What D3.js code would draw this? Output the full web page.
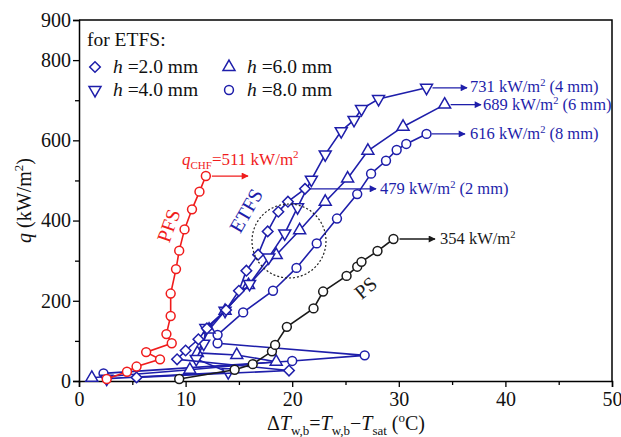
<!DOCTYPE html>
<html>
<head>
<meta charset="utf-8">
<script src="https://cdn.jsdelivr.net/npm/d3@7"></script>
<style>
  html, body { margin: 0; padding: 0; background: #fff; }
  svg { display: block; }
  text { font-family: "Liberation Serif", "Times New Roman", serif; }
</style>
</head>
<body>
<svg id="chart" width="621" height="437"></svg>
<script>
// Boiling curves: wall superheat (°C) vs heat flux (kW/m²)
const psT   = [9.4, 14.6, 16.3, 18.1, 18.4, 19.5, 22.0, 22.9, 25.1, 26.1, 26.5, 28.0, 29.5];
const psQ   = [5, 28, 42, 74, 90, 135, 181, 223, 262, 285, 297, 324, 354];

const pfsT  = [2.6, 4.5, 5.4, 7.6, 6.3, 8.7, 8.2, 8.6, 8.6, 9.1, 9.4, 9.9, 10.6, 11.3, 11.9];
const pfsQ  = [5, 23, 36, 54, 72, 94, 117, 162, 218, 279, 325, 378, 428, 472, 511];

const h2T   = [5.4, 19.7, 9.2, 10.0, 11.2, 12.0, 13.8, 15.0, 15.7, 16.8, 17.7, 18.7, 19.6, 21.2];
const h2Q   = [9, 26, 54, 76, 104, 131, 177, 225, 275, 315, 373, 422, 447, 479];

const h4T   = [2.6, 14.0, 11.0, 11.7, 11.9, 13.7, 16.0, 17.8, 19.3, 20.5, 21.8, 23.1, 24.6, 25.8, 26.5, 28.1, 32.6];
const h4Q   = [6, 22, 55, 93, 132, 175, 242, 308, 368, 433, 502, 565, 623, 651, 678, 703, 731];

const h6T   = [1.2, 10.4, 18.5, 14.8, 11.1, 12.2, 13.7, 15.9, 18.5, 20.7, 23.1, 25.2, 27.1, 30.4, 34.3];
const h6Q   = [8, 28, 48, 65, 70, 128, 175, 239, 314, 376, 447, 505, 574, 634, 689];

const h8T   = [2.3, 20.0, 26.8, 13.0, 13.0, 15.4, 18.2, 20.4, 22.3, 24.2, 26.1, 27.4, 28.8, 29.8, 30.7, 32.6];
const h8Q   = [19, 50, 64, 94, 115, 171, 225, 282, 343, 405, 466, 517, 549, 576, 591, 616];

const xTicks = [0, 10, 20, 30, 40, 50];
const xMinor = [5, 15, 25, 35, 45];
const yTickLabels = [0, 200, 400, 600, 800, 900];
const yMinor = [100, 300, 500, 700];

const BLUE = "#1e1eaa", RED = "#f01c1c", BLACK = "#1a1a1a";
const FONT = "Liberation Serif";

const svg = d3.select("#chart");
const x = d3.scaleLinear().domain([0, 50]).range([79, 612]);
const y = d3.scaleLinear().domain([0, 900]).range([381, 20]);

// frame: top and right edges
svg.append("path")
  .attr("d", `M${x(0)},${y(900)}H${x(50)}V${y(0)}`)
  .attr("fill", "none").attr("stroke", "#000").attr("stroke-width", 1.5);

// axes
svg.append("g").attr("transform", `translate(0,${y(0)})`)
  .call(d3.axisBottom(x).tickValues(xTicks).tickSize(6).tickPadding(5).tickFormat(d3.format("d")));
svg.append("g").attr("transform", `translate(0,${y(0)})`)
  .call(d3.axisBottom(x).tickValues(xMinor).tickSize(4).tickFormat(""))
  .select(".domain").remove();
svg.append("g").attr("transform", `translate(${x(0)},0)`)
  .call(d3.axisLeft(y).tickValues(yTickLabels).tickSize(6).tickPadding(2).tickFormat(d3.format("d")));
svg.append("g").attr("transform", `translate(${x(0)},0)`)
  .call(d3.axisLeft(y).tickValues(yMinor).tickSize(4).tickFormat(""))
  .select(".domain").remove();
svg.selectAll(".domain").attr("stroke-width", 1.5);
svg.selectAll(".tick line").attr("stroke-width", 1.3);
svg.selectAll(".tick text").attr("font-family", FONT).attr("font-size", 20).attr("fill", "#111");

// axis titles
const yt = svg.append("text")
  .attr("transform", `translate(31,${y(450)}) rotate(-90)`)
  .attr("text-anchor", "middle").attr("font-size", 20).attr("fill", "#111");
yt.append("tspan").attr("font-style", "italic").text("q");
yt.append("tspan").text(" (kW/m");
yt.append("tspan").attr("font-size", 13).attr("dy", -8).text("2");
yt.append("tspan").attr("dy", 8).text(")");

const xt = svg.append("text")
  .attr("x", 346).attr("y", 430).attr("text-anchor", "middle")
  .attr("font-size", 20).attr("fill", "#111");
xt.append("tspan").text("Δ");
xt.append("tspan").attr("font-style", "italic").text("T");
xt.append("tspan").attr("font-size", 13).attr("dy", 5).text("w,b");
xt.append("tspan").attr("dy", -5).text("=");
xt.append("tspan").attr("font-style", "italic").text("T");
xt.append("tspan").attr("font-size", 13).attr("dy", 5).text("w,b");
xt.append("tspan").attr("dy", -5).text("\u2212");
xt.append("tspan").attr("font-style", "italic").text("T");
xt.append("tspan").attr("font-size", 13).attr("dy", 5).text("sat");
xt.append("tspan").attr("dy", -5).text(" (");
xt.append("tspan").attr("font-size", 13).attr("dy", -8).text("o");
xt.append("tspan").attr("dy", 8).text("C)");

// marker shapes
const sym = {
  circle:   d3.symbol().type(d3.symbolCircle).size(62),
  diamond:  d3.symbol().type(d3.symbolSquare).size(56),
  up:       d3.symbol().type(d3.symbolTriangle).size(62),
  down:     d3.symbol().type(d3.symbolTriangle).size(62)
};
const rot = { circle: 0, diamond: 45, up: 0, down: 180 };

const line = d3.line().x(d => x(d[0])).y(d => y(d[1]));

function drawSeries(T, Q, color, shape) {
  const pts = T.map((t, i) => [t, Q[i]]);
  const g = svg.append("g");
  g.append("path").datum(pts).attr("d", line)
    .attr("fill", "none").attr("stroke", color).attr("stroke-width", 1.6);
  g.selectAll("path.m").data(pts).join("path").attr("class", "m")
    .attr("d", sym[shape])
    .attr("transform", d => `translate(${x(d[0])},${y(d[1])}) rotate(${rot[shape]})`)
    .attr("fill", "#fff").attr("stroke", color).attr("stroke-width", 1.5);
}

drawSeries(h8T, h8Q, BLUE, "circle");
drawSeries(h6T, h6Q, BLUE, "up");
drawSeries(h4T, h4Q, BLUE, "down");
drawSeries(h2T, h2Q, BLUE, "diamond");
drawSeries(psT, psQ, BLACK, "circle");
drawSeries(pfsT, pfsQ, RED, "circle");

// arrow heads
const defs = svg.append("defs");
[["arrB", BLUE], ["arrR", RED], ["arrK", BLACK]].forEach(([id, c]) => {
  defs.append("marker").attr("id", id).attr("viewBox", "0 0 10 10")
    .attr("refX", 9).attr("refY", 5).attr("markerWidth", 9).attr("markerHeight", 7)
    .attr("markerUnits", "userSpaceOnUse").attr("orient", "auto")
    .append("path").attr("d", "M0,0L10,5L0,10Z").attr("fill", c);
});

function arrow(x1, x2, q, id, color) {
  svg.append("line").attr("x1", x1).attr("x2", x2).attr("y1", y(q)).attr("y2", y(q))
    .attr("stroke", color).attr("stroke-width", 1.3).attr("marker-end", `url(#${id})`);
}
function valueLabel(px, q, val, tail, color) {
  const t = svg.append("text").attr("x", px).attr("y", y(q) + 5)
    .attr("font-size", 16.5).attr("fill", color);
  t.append("tspan").text(`${val} kW/m`);
  t.append("tspan").attr("font-size", 10.5).attr("dy", -6).text("2");
  t.append("tspan").attr("dy", 6).text(tail);
}

arrow(x(32.6) + 6, 467, 731, "arrB", BLUE);
valueLabel(470, 731 + 3, 731, " (4 mm)", BLUE);
arrow(x(34.3) + 6, 481, 689, "arrB", BLUE);
valueLabel(483, 689, 689, " (6 mm)", BLUE);
arrow(x(32.6) + 5, 465, 616, "arrB", BLUE);
valueLabel(470, 616, 616, " (8 mm)", BLUE);
arrow(x(21.2) + 5, 376, 479, "arrB", BLUE);
valueLabel(380, 479, 479, " (2 mm)", BLUE);
arrow(x(29.5) + 6, 435, 354, "arrK", BLACK);
valueLabel(440, 354, 354, "", BLACK);
arrow(x(11.9) + 6, 248, 511, "arrR", RED);

// CHF label for PFS
const chf = svg.append("text").attr("x", 182).attr("y", 165).attr("font-size", 17).attr("fill", RED);
chf.append("tspan").attr("font-style", "italic").text("q");
chf.append("tspan").attr("font-size", 11).attr("dy", 4).text("CHF");
chf.append("tspan").attr("dy", -4).text("=511 kW/m");
chf.append("tspan").attr("font-size", 11).attr("dy", -7).text("2");

// curve names
svg.append("text").attr("transform", "translate(175,228) rotate(-70)")
  .attr("text-anchor", "middle").attr("font-size", 20).attr("fill", RED).text("PFS");
svg.append("text").attr("transform", "translate(252,214) rotate(-60)")
  .attr("text-anchor", "middle").attr("font-size", 20).attr("fill", BLUE).text("ETFS");
svg.append("text").attr("transform", "translate(370,293) rotate(-40)")
  .attr("text-anchor", "middle").attr("font-size", 20).attr("fill", BLACK).text("PS");

// dashed region around the ETFS curves
svg.append("circle").attr("cx", 289).attr("cy", 241).attr("r", 37)
  .attr("fill", "none").attr("stroke", "#222").attr("stroke-width", 1.2).attr("stroke-dasharray", "2,2");

// legend
const lg = svg.append("g");
lg.append("text").attr("x", 87).attr("y", 46).attr("font-size", 19.5).attr("fill", "#111").text("for ETFS:");
const legendItems = [
  ["diamond", "2.0", 95, 67], ["up", "6.0", 229, 67],
  ["down", "4.0", 95, 90], ["circle", "8.0", 229, 90]
];
legendItems.forEach(([shape, h, lx, ly]) => {
  lg.append("path").attr("d", sym[shape])
    .attr("transform", `translate(${lx},${ly}) rotate(${rot[shape]})`)
    .attr("fill", "#fff").attr("stroke", BLUE).attr("stroke-width", 1.5);
  const t = lg.append("text").attr("x", lx + 18).attr("y", ly + 6).attr("font-size", 19.5).attr("fill", "#111");
  t.append("tspan").attr("font-style", "italic").text("h");
  t.append("tspan").text(` =${h} mm`);
});
</script>
</body>
</html>
